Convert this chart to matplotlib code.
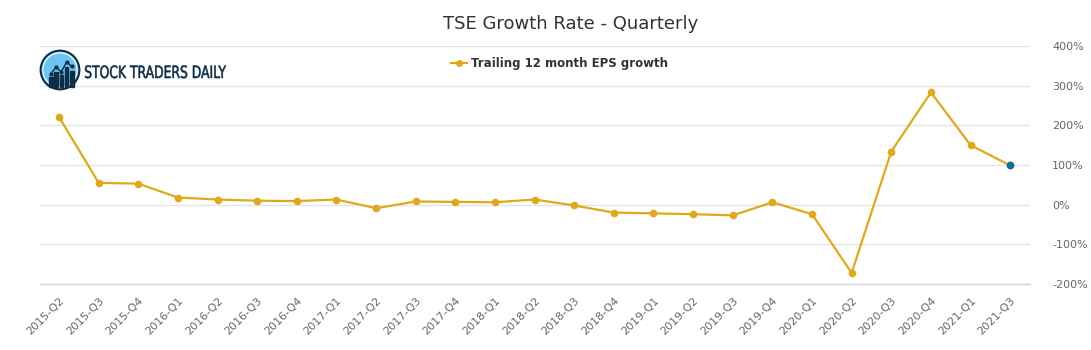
"""TSE growth rate, quarterly trailing 12 month EPS growth."""
import numpy as np
import matplotlib.pyplot as plt
from matplotlib.patches import Circle, Rectangle, PathPatch
from matplotlib.textpath import TextPath
from matplotlib.font_manager import FontProperties
from matplotlib.transforms import Affine2D
from matplotlib.ticker import FuncFormatter

quarters = ["2015-Q2", "2015-Q3", "2015-Q4", "2016-Q1", "2016-Q2", "2016-Q3",
            "2016-Q4", "2017-Q1", "2017-Q2", "2017-Q3", "2017-Q4", "2018-Q1",
            "2018-Q2", "2018-Q3", "2018-Q4", "2019-Q1", "2019-Q2", "2019-Q3",
            "2019-Q4", "2020-Q1", "2020-Q2", "2020-Q3", "2020-Q4", "2021-Q1",
            "2021-Q3"]
eps_growth = [221, 55, 53, 18, 13, 10, 9, 13, -9, 8, 7, 6, 13, -2, -20,
              -22, -24, -27, 6, -24, -172, 134, 283, 150, 99]
yticks = [-200, -100, 0, 100, 200, 300, 400]

GOLD = "#E0A91A"
BLUE = "#0A6FA6"
NAVY = "#0E2E45"

fig = plt.figure(figsize=(10.91, 3.5), dpi=100)
W, H = 1091, 350
ax = fig.add_axes([40 / W, 1 - 284 / H, 990 / W, 238 / H])

x = np.arange(len(quarters))
ax.plot(x, eps_growth, color=GOLD, lw=1.6, marker="o", ms=5.5,
        markeredgewidth=0, zorder=3, label="Trailing 12 month EPS growth")
ax.plot(x[-1], eps_growth[-1], "o", color=BLUE, ms=5.5, markeredgewidth=0,
        zorder=4)

ax.set_xlim(-0.48, len(quarters) - 0.5)
ax.set_ylim(-200, 400)
ax.set_yticks(yticks)
ax.yaxis.set_major_formatter(FuncFormatter(lambda v, _: f"{v:.0f}%"))
ax.yaxis.tick_right()
ax.set_xticks(x)
ax.set_xticklabels(quarters, rotation=45, ha="right", rotation_mode="anchor")
ax.tick_params(axis="both", length=0, labelsize=8, colors="#666666")
ax.tick_params(axis="y", pad=16)
ax.tick_params(axis="x", pad=8)
ax.grid(axis="y", color="#E3E3E3", lw=0.9, zorder=0)
for s in ["top", "left", "right"]:
    ax.spines[s].set_visible(False)
ax.spines["bottom"].set_color("#C8D4E6")
ax.spines["bottom"].set_linewidth(1.0)

fig.text(571 / W, 1 - 24 / H, "TSE Growth Rate - Quarterly", ha="center",
         va="center", fontsize=13, color="#333333")

ax.legend(loc="center", bbox_to_anchor=(0.525, 1 - (64 - 46) / 238),
          frameon=False, prop={"weight": "bold", "size": 8.5},
          handlelength=1.3, handletextpad=0.4, labelcolor="#333333",
          markerscale=0.9)

# logo
lax = fig.add_axes([38 / W, 1 - 92 / H, 44 / W, 44 / H])
lax.set_xlim(0, 1)
lax.set_ylim(0, 1)
lax.set_aspect("equal")
lax.axis("off")
lax.add_patch(Circle((0.5, 0.5), 0.44, facecolor="#6EC3F0",
                     edgecolor=NAVY, lw=1.5))
lax.add_patch(Circle((0.5, 0.5), 0.39, facecolor="none",
                     edgecolor="white", lw=0.8))
for bx, bh in [(0.25, 0.22), (0.37, 0.34), (0.49, 0.26), (0.61, 0.44),
               (0.73, 0.36)]:
    lax.add_patch(Rectangle((bx, 0.12), 0.08, bh, color=NAVY))
lax.plot([0.29, 0.41, 0.53, 0.65, 0.77], [0.42, 0.56, 0.46, 0.68, 0.58],
         color=NAVY, lw=1, marker="o", ms=2)

# condensed logo text, drawn as a squeezed path in pixel coordinates
tp = TextPath((0, 0), "STOCK TRADERS DAILY", size=17,
              prop=FontProperties(family="DejaVu Sans"))
ext = tp.get_extents()
sx = 141 / ext.width
tr = Affine2D().translate(-ext.x0, 0).scale(sx, 1.0).translate(85, H - 78)
fig.patches.append(PathPatch(tr.transform_path(tp), facecolor=NAVY,
                             edgecolor=NAVY, lw=0.4, transform=None,
                             figure=fig))

fig.savefig("out.png", dpi=100, facecolor="white")
